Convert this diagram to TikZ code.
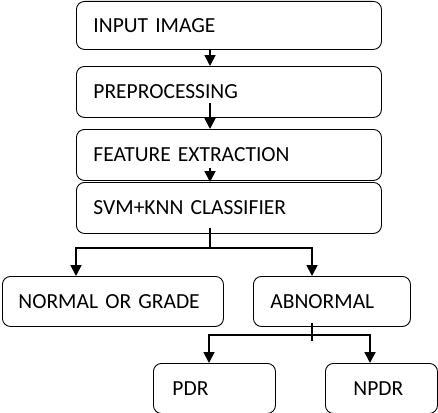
\documentclass[tikz,border=0pt]{standalone}
\usepackage{fontspec}
\setmainfont{Carlito}
\usetikzlibrary{arrows.meta}

\tikzset{
box/.style={draw, line width=0.9pt, rounded corners=8pt, anchor=north west,
	inner xsep=17pt, text width=#1, align=left, minimum height=51pt,
	font=\fontsize{21.5}{24}\selectfont},
flow/.style={line width=1.8pt, -{Triangle[length=11pt,width=11pt]}},
link/.style={line width=1.8pt}
}

\begin{document}
\begin{tikzpicture}[x=1pt,y=-1pt]
\useasboundingbox (0,0) rectangle (438,412);
\clip (0,0) rectangle (438,412);

% main chain
\node[box=271pt, minimum height=48pt] (in) at (76,1) {INPUT IMAGE};
\node[box=271pt] (pre) at (76,66) {PREPROCESSING};
\node[box=271pt] (feat) at (76,129) {FEATURE EXTRACTION};
\node[box=271pt] (svm) at (76,182) {SVM+KNN CLASSIFIER};

\draw[flow] (in.south -| 210,0) -- (pre.north -| 210,0);
\draw[flow] ([yshift=15pt]pre.south -| 210,0) -- (feat.north -| 210,0);
\draw[flow] ([yshift=13pt]feat.south -| 210,0) -- (svm.north -| 210,0);

% classes
\node[box=189pt, inner xsep=16pt, minimum height=50pt] (norm) at (2,276) {NORMAL OR GRADE};
\node[box=123pt, minimum height=50pt] (abn) at (253,276) {ABNORMAL};

\coordinate (svmfork) at (210,248);
\draw[link] ([yshift=6pt]svm.south -| svmfork) -- (svmfork);
\draw[flow] (svmfork) -| (norm.north -| 76,0);
\draw[flow] (svmfork) -| (abn.north -| 312,0);

% abnormal grades
\node[box=84pt, inner xsep=19pt, minimum height=50pt] (pdr) at (153,363) {PDR};
\node[box=56pt, inner xsep=28pt, minimum height=50pt] (npdr) at (325,363) {NPDR};

\coordinate (abnfork) at (312,335);
\draw[link] ([yshift=4pt]abn.south -| abnfork) -- (312,341);
\draw[flow] (abnfork) -| (pdr.north -| 209,0);
\draw[flow] (abnfork) -| (npdr.north -| 370,0);
\end{tikzpicture}
\end{document}
